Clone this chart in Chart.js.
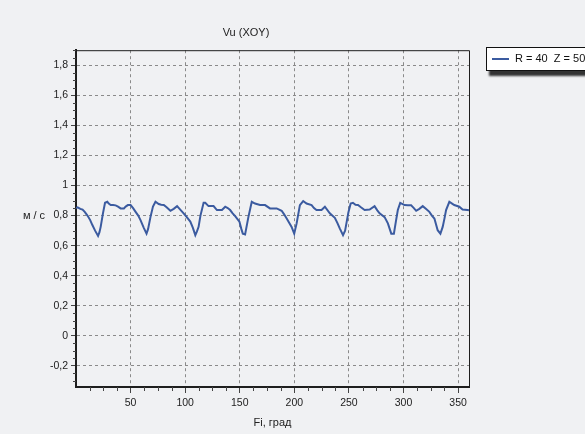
<!DOCTYPE html>
<html>
<head>
<meta charset="utf-8">
<script src="https://cdn.jsdelivr.net/npm/chart.js"></script>
<style>
  body { margin: 0; background: #f0f1f3; width: 585px; height: 434px; overflow: hidden; position: relative; font-family: "Liberation Sans", Arial, sans-serif; }
  #wrap { position: absolute; left: 0; top: 0; width: 490px; height: 434px; }
  #legend { position: absolute; left: 486px; top: 47px; width: 112px; height: 22px; background: #fff; border: 1px solid #111; box-shadow: 3px 5px 2px #333; font-size: 11px; color: #111; }
  #legend .swatch { position: absolute; left: 5px; top: 10px; width: 17px; height: 2px; background: #3b5ba0; }
  #legend .label { position: absolute; left: 28px; top: 4px; white-space: pre; }
</style>
</head>
<body>
<div id="wrap"><canvas id="line-chart" width="490" height="434"></canvas></div>
<div id="legend"><span class="swatch"></span><span class="label" id="legend-label"></span></div>
<script>
// Fi, град
var fiDeg = [0, 1.5, 4, 6, 8, 10.5, 13, 15, 17.5, 20.2, 21.5, 22.6, 24.7, 26.6, 28.7, 30, 31.8, 34, 36.3, 38.5,
  40.9, 43.9, 45.5, 47.5, 50, 52.3, 54.6, 57, 59.1, 62, 64.6, 66, 68.2, 70.5, 72.8, 75.8, 78, 80.4, 83, 86.5,
  89.5, 92.6, 95.5, 98.6, 101.5, 104.7, 107, 109.3, 110.8, 112.3, 114, 116.9, 118.4, 121.4, 124, 126, 129.1, 133.7, 136.7, 139,
  141.2, 143.5, 145.8, 149.7, 151.5, 152.8, 154.9, 157.9, 161, 164, 168.6, 173.2, 177.7, 183.8, 188.4, 190.5, 193, 197.5, 199.9, 202.1,
  205.1, 208.1, 211.2, 215.8, 218, 220.3, 224.9, 228, 232.5, 237.1, 239.5, 241.6, 244.6, 246.5, 247.7, 249.5, 251.6, 253.7, 256, 258.3,
  261, 264.4, 269, 273.5, 276, 278.1, 282.7, 285.7, 288.8, 291.2, 293, 294.8, 297, 301, 304, 307, 309.5, 311.6, 314.5, 317.6,
  320.5, 323.7, 326, 328.3, 331.3, 333.8, 335.9, 337.5, 339, 342, 344.5, 346.5, 351.1, 354.1, 358.6, 360];

// Vu, м / с
var vu = [0.85, 0.855, 0.845, 0.84, 0.825, 0.80, 0.77, 0.737, 0.70, 0.665, 0.69, 0.725, 0.815, 0.885, 0.892, 0.88, 0.87, 0.87, 0.868, 0.86,
  0.848, 0.848, 0.86, 0.87, 0.87, 0.85, 0.825, 0.80, 0.77, 0.72, 0.68, 0.71, 0.79, 0.86, 0.892, 0.877, 0.872, 0.87, 0.855, 0.832,
  0.845, 0.863, 0.84, 0.815, 0.79, 0.76, 0.72, 0.67, 0.695, 0.725, 0.80, 0.885, 0.885, 0.863, 0.863, 0.863, 0.837, 0.837, 0.859, 0.85,
  0.837, 0.815, 0.797, 0.76, 0.71, 0.68, 0.675, 0.79, 0.892, 0.88, 0.87, 0.87, 0.848, 0.848, 0.832, 0.81, 0.78, 0.725, 0.68, 0.748,
  0.87, 0.897, 0.88, 0.87, 0.85, 0.837, 0.837, 0.859, 0.815, 0.785, 0.75, 0.715, 0.67, 0.70, 0.748, 0.82, 0.88, 0.885, 0.872, 0.87,
  0.855, 0.837, 0.84, 0.863, 0.835, 0.815, 0.79, 0.748, 0.68, 0.68, 0.76, 0.837, 0.885, 0.87, 0.868, 0.868, 0.85, 0.832, 0.845, 0.863,
  0.845, 0.825, 0.80, 0.78, 0.703, 0.68, 0.725, 0.78, 0.837, 0.892, 0.88, 0.87, 0.859, 0.84, 0.837, 0.835];

var xTicks = [50, 100, 150, 200, 250, 300, 350];
var yTicks = [-0.2, 0, 0.2, 0.4, 0.6, 0.8, 1, 1.2, 1.4, 1.6, 1.8];
var seriesLabel = 'R = 40  Z = 50';

var lineColor = '#3b5ba0';
var gridColor = '#8a8a8a';
var axisColor = '#1e1e1e';
var fontFamily = '"Liberation Sans", Arial, sans-serif';

document.getElementById('legend-label').textContent = seriesLabel;

var points = fiDeg.map(function (x, i) { return { x: x, y: vu[i] }; });

// frame on top / right, minor ticks, horizontal y title
var framePlugin = {
  id: 'frame',
  afterDraw: function (chart) {
    var ctx = chart.ctx;
    var a = chart.chartArea;
    var xs = chart.scales.x, ys = chart.scales.y;
    ctx.save();
    ctx.strokeStyle = axisColor;
    ctx.lineWidth = 1;
    ctx.beginPath();
    ctx.moveTo(a.left, a.top + 0.5);
    ctx.lineTo(a.right + 0.5, a.top + 0.5);
    ctx.lineTo(a.right + 0.5, a.bottom);
    ctx.stroke();

    ctx.strokeStyle = '#444';
    ctx.beginPath();
    for (var v = 12.5; v < 360; v += 12.5) {
      if (v % 50 === 0) continue;
      var px = Math.round(xs.getPixelForValue(v)) + 0.5;
      ctx.moveTo(px, a.bottom);
      ctx.lineTo(px, a.bottom + 4);
    }
    for (var k = -6; k <= 38; k++) {
      if (k % 4 === 0) continue;
      var py = Math.round(ys.getPixelForValue(k * 0.05)) + 0.5;
      if (py < a.top || py > a.bottom) continue;
      ctx.moveTo(a.left - 3, py);
      ctx.lineTo(a.left, py);
    }
    ctx.stroke();

    ctx.fillStyle = '#222';
    ctx.font = '11px ' + fontFamily;
    ctx.textAlign = 'center';
    ctx.textBaseline = 'middle';
    ctx.fillText('м / с', 34, (a.top + a.bottom) / 2 - 3);
    ctx.restore();
  }
};

var lineChart = new Chart(document.getElementById('line-chart'), {
  type: 'line',
  data: {
    datasets: [{
      label: seriesLabel,
      data: points,
      borderColor: lineColor,
      borderWidth: 2,
      pointRadius: 0,
      tension: 0,
      fill: false
    }]
  },
  options: {
    responsive: false,
    animation: false,
    devicePixelRatio: 1,
    layout: { padding: { left: 23, right: 21, top: 0, bottom: 0 } },
    plugins: {
      legend: { display: false },
      tooltip: { enabled: false },
      title: {
        display: true,
        text: 'Vu (XOY)',
        color: '#222',
        font: { family: fontFamily, size: 11, weight: 'normal', lineHeight: 1.2 },
        padding: { top: 26, bottom: 11 }
      }
    },
    scales: {
      x: {
        type: 'linear',
        position: 'bottom',
        min: 0,
        max: 360,
        afterBuildTicks: function (scale) { scale.ticks = xTicks.map(function (v) { return { value: v }; }); },
        afterFit: function (scale) { scale.height = 47; },
        ticks: { color: '#222', padding: 4, maxRotation: 0, font: { family: fontFamily, size: 10.5 } },
        grid: { color: gridColor, tickColor: '#444', tickLength: 6, tickBorderDash: [] },
        border: { color: axisColor, width: 2, dash: [3, 3] },
        title: {
          display: true,
          text: 'Fi, град',
          color: '#222',
          font: { family: fontFamily, size: 11 },
          padding: { top: 0, bottom: 4 }
        }
      },
      y: {
        type: 'linear',
        min: -0.34,
        max: 1.9,
        afterBuildTicks: function (scale) { scale.ticks = yTicks.map(function (v) { return { value: v }; }); },
        afterFit: function (scale) { scale.width = 53; },
        ticks: {
          color: '#222',
          padding: 3,
          font: { family: fontFamily, size: 10.5 },
          callback: function (v) { return String(Math.round(v * 10) / 10).replace('.', ','); }
        },
        grid: { color: gridColor, tickColor: '#444', tickLength: 5, tickBorderDash: [] },
        border: { color: axisColor, width: 2, dash: [3, 3] }
      }
    }
  },
  plugins: [framePlugin]
});
</script>
</body>
</html>
